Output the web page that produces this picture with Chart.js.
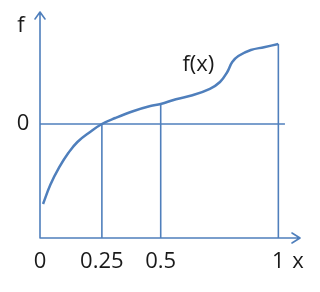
<!DOCTYPE html>
<html>
<head>
<meta charset="utf-8">
<script src="https://cdn.jsdelivr.net/npm/chart.js@4/dist/chart.umd.min.js"></script>
<style>
html,body{margin:0;padding:0;background:#fff;}
#wrap{width:320px;height:292px;}
</style>
</head>
<body>
<div id="wrap"><canvas id="c" width="320" height="292"></canvas></div>
<script>
// Curve samples
const xs = [0, 0.031, 0.069, 0.108, 0.146, 0.2, 0.25, 0.307, 0.382, 0.456, 0.5, 0.565, 0.635, 0.709, 0.752, 0.783, 0.804, 0.83, 0.883, 0.939, 1.0];
const fs = [-1.0, -0.76, -0.54, -0.36, -0.225, -0.10, 0, 0.075, 0.16, 0.225, 0.25, 0.31, 0.36, 0.44, 0.525, 0.65, 0.775, 0.85, 0.925, 0.96, 1.0];
// Marked x positions (vertical drop lines) and their tick labels
const xTickVals = [0, 0.25, 0.5, 1];
const xTickLabels = ['0', '0.25', '0.5', '1'];
const dropX = [0.25, 0.5, 1];
const dropF = [0, 0.25, 1.0];
const yTickVals = [0];
const yTickLabels = ['0'];
const xAxisName = 'x';
const yAxisName = 'f';
const curveName = 'f(x)';
const curveLabelAt = [0.66, 0.74];
const xMin = -0.013, xMax = 1.092, yMin = -1.425, yMax = 1.4;
const zeroLineEnd = 1.028;

const blue = '#4f7fbc';
const curve = xs.map((x, i) => ({x: x, y: fs[i]}));
const datasets = [
  {data: curve, borderColor: blue, borderWidth: 2.5, pointRadius: 0, tension: 0.4, fill: false},
  {data: [{x: xMin, y: 0}, {x: zeroLineEnd, y: 0}], borderColor: blue, borderWidth: 1.6, pointRadius: 0}
];
dropX.forEach((x, i) => {
  datasets.push({data: [{x: x, y: yMin}, {x: x, y: dropF[i]}], borderColor: blue, borderWidth: 1.6, pointRadius: 0});
});

const font = '22px "Open Sans", "Noto Sans", sans-serif';
const decor = {
  id: 'decor',
  afterDatasetsDraw(chart) {
    const ctx = chart.ctx;
    const sx = chart.scales.x, sy = chart.scales.y;
    const x0 = sx.getPixelForValue(xMin), y0 = sy.getPixelForValue(yMin);
    const xe = sx.getPixelForValue(xMax), ye = sy.getPixelForValue(yMax);
    ctx.save();
    ctx.strokeStyle = blue; ctx.lineWidth = 1.6; ctx.lineCap = 'round'; ctx.lineJoin = 'round';
    ctx.beginPath();
    ctx.moveTo(x0, y0); ctx.lineTo(x0, ye);
    ctx.moveTo(x0 - 5, ye + 7); ctx.lineTo(x0, ye); ctx.lineTo(x0 + 5, ye + 7);
    ctx.moveTo(x0, y0); ctx.lineTo(xe, y0);
    ctx.moveTo(xe - 8, y0 - 5); ctx.lineTo(xe, y0); ctx.lineTo(xe - 8, y0 + 5);
    ctx.stroke();
    ctx.fillStyle = '#1a1a1a'; ctx.font = font;
    ctx.textAlign = 'center'; ctx.textBaseline = 'middle';
    xTickVals.forEach((v, i) => {
      let px = sx.getPixelForValue(v);
      if (i === 0) px = x0;
      ctx.fillText(xTickLabels[i], px, y0 + 24);
    });
    ctx.fillText(xAxisName, xe - 2, y0 + 24);
    yTickVals.forEach((v, i) => {
      ctx.fillText(yTickLabels[i], x0 - 17, sy.getPixelForValue(v));
    });
    ctx.fillText(yAxisName, x0 - 19, ye + 14);
    ctx.fillText(curveName, sx.getPixelForValue(curveLabelAt[0]), sy.getPixelForValue(curveLabelAt[1]));
    ctx.restore();
  }
};

new Chart(document.getElementById('c'), {
  type: 'line',
  data: {datasets: datasets},
  options: {
    responsive: false, animation: false,
    layout: {padding: {left: 40, right: 20, top: 12, bottom: 54}},
    plugins: {legend: {display: false}, tooltip: {enabled: false}},
    scales: {
      x: {type: 'linear', min: xMin, max: xMax, display: false},
      y: {type: 'linear', min: yMin, max: yMax, display: false}
    }
  },
  plugins: [decor]
});
</script>
</body>
</html>
